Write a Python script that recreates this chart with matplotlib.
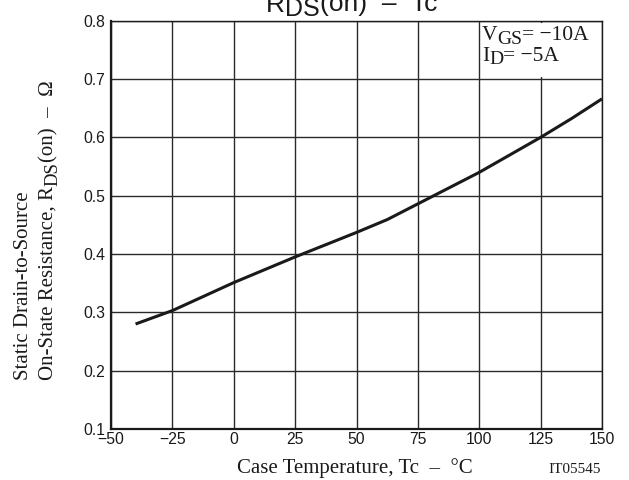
import matplotlib
matplotlib.use("Agg")
import matplotlib.pyplot as plt
from matplotlib.patches import Rectangle

temp_c = [-40, -25, 0, 25, 50, 62.5, 75, 100, 112.5, 125, 137.5, 150]
rds_on = [0.280, 0.303, 0.351, 0.395, 0.437, 0.459, 0.486, 0.540, 0.570, 0.600, 0.632, 0.666]
x_ticks = [-50, -25, 0, 25, 50, 75, 100, 125, 150]
x_tick_labels = ['−50', '−25', '0', '25', '50', '75', '100', '125', '150']
y_ticks = [0.1, 0.2, 0.3, 0.4, 0.5, 0.6, 0.7, 0.8]
y_tick_labels = ['0.1', '0.2', '0.3', '0.4', '0.5', '0.6', '0.7', '0.8']

sans = ['Liberation Sans', 'DejaVu Sans']
serif = ['Liberation Serif', 'DejaVu Serif']
INK = '#1a1a1a'

W, H = 629, 480
def fx(px):
    return px / W
def fy(py):
    return 1 - py / H

fig = plt.figure(figsize=(6.29, 4.8), dpi=100)
renderer = fig.canvas.get_renderer()

def chain(x0, y0, pieces, family, vertical=False, zorder=5):
    """Place text pieces one after another; pieces = (text, size, offset_px)."""
    pos = x0 if not vertical else y0
    for txt, size, off in pieces:
        if vertical:
            t = fig.text(fx(x0 + off), fy(pos), txt, family=family, fontsize=size,
                         rotation=90, ha='left', va='baseline', rotation_mode='anchor',
                         color=INK, zorder=zorder)
            pos -= t.get_window_extent(renderer).height
        else:
            t = fig.text(fx(pos), fy(y0 + off), txt, family=family, fontsize=size,
                         ha='left', va='baseline', color=INK, zorder=zorder)
            pos += t.get_window_extent(renderer).width

ax = fig.add_axes([fx(111), fy(429), (602 - 111) / W, (429 - 20.7) / H])

ax.plot(temp_c, rds_on, color=INK, lw=2.2, solid_capstyle='butt', zorder=3)

ax.set_xlim(-50, 150)
ax.set_ylim(0.1, 0.8)
ax.set_xticks(x_ticks)
ax.set_yticks(y_ticks)
ax.set_xticklabels(x_tick_labels, family=sans, fontsize=11.3, color=INK)
ax.set_yticklabels(y_tick_labels, family=sans, fontsize=11.3, color=INK)
ax.tick_params(axis='x', length=0, pad=2.2)
ax.tick_params(axis='y', length=0, pad=4.3)
ax.grid(True, color='#2a2a2a', lw=1.0)
for s in ax.spines.values():
    s.set_color(INK)
    s.set_linewidth(1.0)
ax.spines['left'].set_linewidth(1.6)
ax.spines['bottom'].set_linewidth(1.6)

# condition box (white cell in the top-right grid cell)
ax.add_patch(Rectangle((100.6, 0.7030), 48.8, 0.0935, transform=ax.transData,
                       facecolor='white', edgecolor='none', zorder=4))
chain(482, 40, [('V', 15.5, 0), ('GS', 14, 3.5), ('= −10A', 15.5, 0)], serif)
chain(482, 61, [('I', 15.5, 0), ('D', 14, 3.5), ('= −5A', 15.5, 0)], serif)

# title (clipped at the top edge, as in the reference)
chain(266, 11.5, [('R', 19, 0), ('DS', 18, 5), ('(on)  –  Tc', 19, 0)], sans)

fig.text(fx(237), fy(473.3), 'Case Temperature, Tc  –  °C', family=serif,
         fontsize=15, ha='left', va='baseline', color=INK)
fig.text(fx(575), fy(473.3), 'IT05545', family=serif, fontsize=11,
         ha='center', va='baseline', color=INK)

fig.text(fx(28), fy(380), 'Static Drain-to-Source', family=serif, fontsize=15,
         rotation=90, ha='left', va='baseline', rotation_mode='anchor', color=INK)
chain(53, 380, [('On-State Resistance, R', 15, 0), ('DS', 13.5, 4),
                ('(on)  –  Ω', 15, 0)], serif, vertical=True)

fig.savefig('out.png', dpi=100)
